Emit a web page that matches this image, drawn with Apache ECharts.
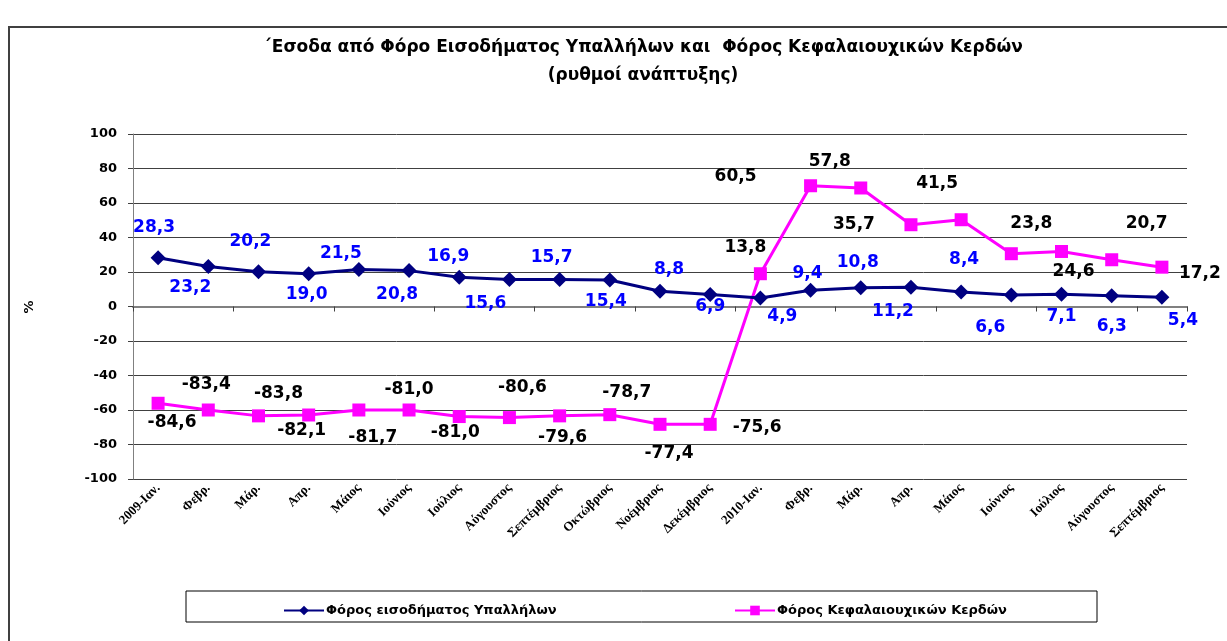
<!DOCTYPE html>
<html>
<head>
<meta charset="utf-8">
<script src="https://cdn.jsdelivr.net/npm/echarts@6/dist/echarts.min.js"></script>
<style>
  html, body { margin: 0; padding: 0; background: #fff; }
  #chart { width: 1227px; height: 641px; }
</style>
</head>
<body>
<div id="chart"></div>
<script>
// μήνες (άξονας x)
var months = ['2009-Ιαν.', 'Φεβρ.', 'Μάρ.', 'Απρ.', 'Μάιος', 'Ιούνιος', 'Ιούλιος', 'Αύγουστος',
  'Σεπτέμβριος', 'Οκτώβριος', 'Νοέμβριος', 'Δεκέμβριος', '2010-Ιαν.', 'Φεβρ.', 'Μάρ.', 'Απρ.',
  'Μάιος', 'Ιούνιος', 'Ιούλιος', 'Αύγουστος', 'Σεπτέμβριος'];

var yTicks = [-100, -80, -60, -40, -20, 0, 20, 40, 60, 80, 100];

var nameSalary = 'Φόρος εισοδήματος Υπαλλήλων';
var nameCapital = 'Φόρος Κεφαλαιουχικών Κερδών';

// Φόρος εισοδήματος Υπαλλήλων
var salaryValues = [28.3, 23.2, 20.2, 19.0, 21.5, 20.8, 16.9, 15.6, 15.7, 15.4, 8.8,
  6.9, 4.9, 9.4, 10.8, 11.2, 8.4, 6.6, 7.1, 6.3, 5.4];

// Φόρος Κεφαλαιουχικών Κερδών - θέσεις όπως σχεδιάζονται
var capitalValues = [-56.1, -60.0, -63.4, -62.9, -60.0, -60.0, -63.8, -64.4, -63.4, -62.7,
  -68.3, -68.3, 19.0, 70.0, 68.7, 47.4, 50.3, 30.6, 31.9, 27.1, 22.8];
// ετικέτες όπως γράφονται στο γράφημα
var capitalLabels = ['-84,6', '-83,4', '-83,8', '-82,1', '-81,7', '-81,0', '-81,0', '-80,6',
  '-79,6', '-78,7', '-77,4', '-75,6', '13,8', '60,5', '57,8', '35,7', '41,5', '23,8',
  '24,6', '20,7', '17,2'];

// μετατόπιση ετικετών (px) σε σχέση με το σημείο
var salaryOffsets = [[-4, -30], [-18, 21], [-8, -30], [-2, 21], [-18, -16], [-12, 24], [-11, -21],
  [-24, 24], [-8, -22], [-4, 22], [9, -22], [0, 12], [22, 19], [-3, -17], [-3, -25], [-18, 24],
  [3, -32], [-21, 32], [0, 22], [0, 31], [21, 23]];
var capitalOffsets = [[14, 19], [-2, -25], [20, -22], [-7, 16], [14, 28], [0, -20], [-4, 16],
  [13, -30], [3, 22], [17, -22], [9, 29], [47, 3], [-15, -26], [-75, -9], [-31, -26], [-57, 0],
  [-24, -36], [20, -30], [12, 20], [35, -36], [38, 6]];

function fmt(v) {
  return v.toFixed(1).replace('.', ',');
}

var chart = echarts.init(document.getElementById('chart'));

var labelFont = 'DejaVu Sans, Verdana, sans-serif';

var option = {
  backgroundColor: '#fff',
  animation: false,
  title: {
    text: '´Εσοδα από Φόρο Εισοδήματος Υπαλλήλων και  Φόρος Κεφαλαιουχικών Κερδών\n(ρυθμοί ανάπτυξης)',
    left: 638,
    top: 29,
    textAlign: 'center',
    textStyle: {
      fontFamily: labelFont,
      fontWeight: 'bold',
      fontSize: 17,
      lineHeight: 28,
      color: '#000'
    }
  },
  graphic: [
    { // πλαίσιο γραφήματος
      type: 'rect',
      shape: { x: 9, y: 27, width: 1240, height: 640 },
      style: { fill: 'none', stroke: '#404040', lineWidth: 2 },
      silent: true
    },
    { // πλαίσιο υπομνήματος
      type: 'rect',
      shape: { x: 186, y: 591, width: 911, height: 31 },
      style: { fill: 'none', stroke: '#000', lineWidth: 1 },
      silent: true
    },
    {
      type: 'text',
      x: 30, y: 307,
      rotation: Math.PI / 2,
      style: {
        text: '%',
        font: 'bold 13px ' + labelFont,
        fill: '#000',
        align: 'center',
        verticalAlign: 'middle'
      }
    }
  ],
  legend: [
    {
      data: [nameSalary],
      left: 278, top: 599,
      itemWidth: 40, itemHeight: 12, itemGap: 2,
      textStyle: { fontFamily: labelFont, fontWeight: 'bold', fontSize: 13, color: '#000', padding: [0, 0, 0, -3] }
    },
    {
      data: [nameCapital],
      left: 729, top: 599,
      itemWidth: 40, itemHeight: 12, itemGap: 2,
      textStyle: { fontFamily: labelFont, fontWeight: 'bold', fontSize: 13, color: '#000', padding: [0, 0, 0, -3] }
    }
  ],
  grid: { left: 133, right: 40, top: 134, bottom: 162 },
  xAxis: [
    {
      type: 'category',
      data: months,
      position: 'bottom',
      axisLine: { show: false, onZero: false },
      axisTick: { show: false },
      axisLabel: {
        interval: 0,
        rotate: 45,
        margin: 7,
        fontFamily: 'Liberation Serif, Times New Roman, serif',
        fontWeight: 'bold',
        fontSize: 13,
        color: '#000'
      }
    },
    {
      type: 'category',
      data: months,
      position: 'bottom',
      axisLine: { show: true, onZero: true, lineStyle: { color: '#808080', width: 2 } },
      axisTick: { show: true, length: 5, lineStyle: { color: '#404040' } },
      axisLabel: { show: false }
    }
  ],
  yAxis: {
    type: 'value',
    min: yTicks[0],
    max: yTicks[yTicks.length - 1],
    interval: 20,
    axisLine: { show: true, lineStyle: { color: '#808080', width: 1 } },
    axisTick: { show: true, length: 5, lineStyle: { color: '#404040' } },
    axisLabel: {
      margin: 16,
      fontFamily: labelFont,
      fontWeight: 'bold',
      fontSize: 13,
      color: '#000'
    },
    splitLine: { lineStyle: { color: '#404040', width: 1 } }
  },
  series: [
    {
      name: nameSalary,
      type: 'line',
      xAxisIndex: 0,
      data: salaryValues.map(function (v, i) {
        return { value: v, label: { offset: salaryOffsets[i] } };
      }),
      symbol: 'diamond',
      symbolSize: 15,
      itemStyle: { color: '#000080' },
      lineStyle: { color: '#000080', width: 3 },
      label: {
        show: true,
        position: 'inside',
        formatter: function (p) { return fmt(salaryValues[p.dataIndex]); },
        fontFamily: labelFont,
        fontWeight: 'bold',
        fontSize: 17,
        color: '#0000ff'
      },
      z: 3
    },
    {
      name: nameCapital,
      type: 'line',
      xAxisIndex: 0,
      data: capitalValues.map(function (v, i) {
        return { value: v, label: { offset: capitalOffsets[i] } };
      }),
      symbol: 'rect',
      symbolSize: 13,
      itemStyle: { color: '#ff00ff' },
      lineStyle: { color: '#ff00ff', width: 3 },
      label: {
        show: true,
        position: 'inside',
        formatter: function (p) { return capitalLabels[p.dataIndex]; },
        fontFamily: labelFont,
        fontWeight: 'bold',
        fontSize: 17,
        color: '#000'
      },
      z: 2
    }
  ]
};

chart.setOption(option);
</script>
</body>
</html>
